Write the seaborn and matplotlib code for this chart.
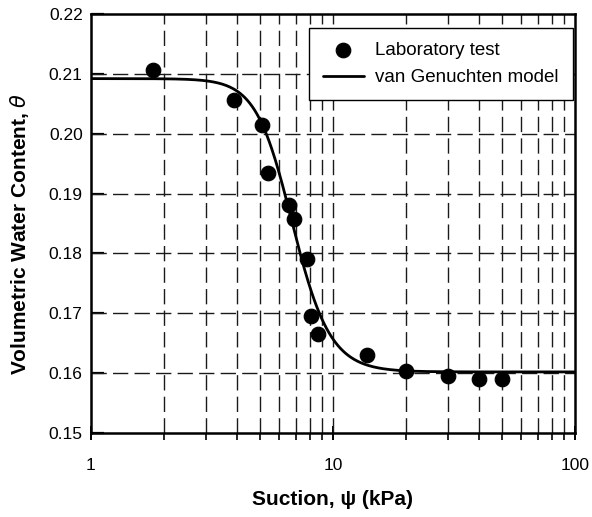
import numpy as np
import pandas as pd
import matplotlib
matplotlib.use("Agg")
import matplotlib.pyplot as plt
from matplotlib.ticker import LogLocator, FixedLocator, NullFormatter, FuncFormatter
import seaborn as sns

# laboratory test data
suction_kpa = [1.8, 3.9, 5.1, 5.4, 6.6, 6.9, 7.8, 8.1, 8.7, 13.8, 20, 30, 40, 50]
water_content = [0.2106, 0.2056, 0.2015, 0.1934, 0.1881, 0.1858, 0.1790, 0.1696,
                 0.1666, 0.1630, 0.1603, 0.1596, 0.1591, 0.1591]

# van Genuchten fit parameters
theta_s = 0.2092
theta_r = 0.1602
alpha = 0.153
n_vg = 6.0
m_vg = 1 - 1 / n_vg

y_ticks = [0.15, 0.16, 0.17, 0.18, 0.19, 0.20, 0.21, 0.22]
x_ticks = [1, 10, 100]

lab = pd.DataFrame({"psi": suction_kpa, "theta": water_content})
psi_fit = np.logspace(0, 2, 400)
fit = pd.DataFrame({"psi": psi_fit,
                    "theta": theta_r + (theta_s - theta_r) / (1 + (alpha * psi_fit) ** n_vg) ** m_vg})

sns.set_style("ticks")
plt.rcParams['font.family'] = ['Liberation Sans', 'DejaVu Sans']
plt.rcParams['mathtext.fontset'] = 'dejavusans'
plt.rcParams['text.color'] = 'black'
plt.rcParams['axes.labelcolor'] = 'black'
plt.rcParams['xtick.color'] = 'black'
plt.rcParams['ytick.color'] = 'black'

fig = plt.figure(figsize=(5.92, 5.17), dpi=100)
ax = fig.add_axes([0.1537, 0.1625, 0.9713 - 0.1537, 0.973 - 0.1625])

ax.set_xscale("log")
ax.set_xlim(1, 100)
ax.set_ylim(0.15, 0.22)

# dashed grid
grid_kw = dict(color="#1a1a1a", linewidth=1.0, dashes=(11, 4.5), zorder=1)
for x in [2, 3, 4, 5, 6, 7, 8, 9, 10, 20, 30, 40, 50, 60, 70, 80, 90]:
    ax.axvline(x, **grid_kw)
for y in y_ticks[1:-1]:
    ax.axhline(y, **grid_kw)

sns.lineplot(data=fit, x="psi", y="theta", ax=ax, color="black", linewidth=2.0,
             label="van Genuchten model", zorder=3)
sns.scatterplot(data=lab, x="psi", y="theta", ax=ax, color="black", s=110,
                edgecolor="black", label="Laboratory test", zorder=4)

ax.xaxis.set_major_locator(FixedLocator(x_ticks))
ax.xaxis.set_minor_locator(LogLocator(base=10, subs=np.arange(2, 10)))
ax.xaxis.set_major_formatter(FuncFormatter(lambda v, p: f"{v:g}"))
ax.xaxis.set_minor_formatter(NullFormatter())
ax.set_yticks(y_ticks)
ax.yaxis.set_major_formatter(FuncFormatter(lambda v, p: f"{v:.2f}"))

ax.tick_params(axis="y", which="major", direction="in", length=9, width=1.6,
               labelsize=12.5, pad=6)
ax.tick_params(axis="x", which="major", direction="inout", length=10, width=1.4,
               labelsize=12.5, pad=13)
ax.tick_params(axis="x", which="minor", direction="out", length=5, width=1.2)

for sp in ax.spines.values():
    sp.set_linewidth(1.8)
    sp.set_color("black")

ax.set_xlabel("Suction, ψ (kPa)", fontsize=15, fontweight="bold", labelpad=12)
ax.set_ylabel(r"Volumetric Water Content, $\theta$", fontsize=15, fontweight="bold")
ax.yaxis.set_label_coords(-0.124, 0.475)

handles, labels = ax.get_legend_handles_labels()
order = [labels.index("Laboratory test"), labels.index("van Genuchten model")]
leg = ax.legend([handles[i] for i in order], [labels[i] for i in order],
                loc="upper right", bbox_to_anchor=(0.9952, 0.967), borderaxespad=0,
                fontsize=13.5, frameon=True, fancybox=False, framealpha=1,
                edgecolor="black", borderpad=0.75, handlelength=2.2,
                handletextpad=0.6, labelspacing=0.55)
leg.get_frame().set_linewidth(1.0)

fig.savefig("out.png", dpi=100)
